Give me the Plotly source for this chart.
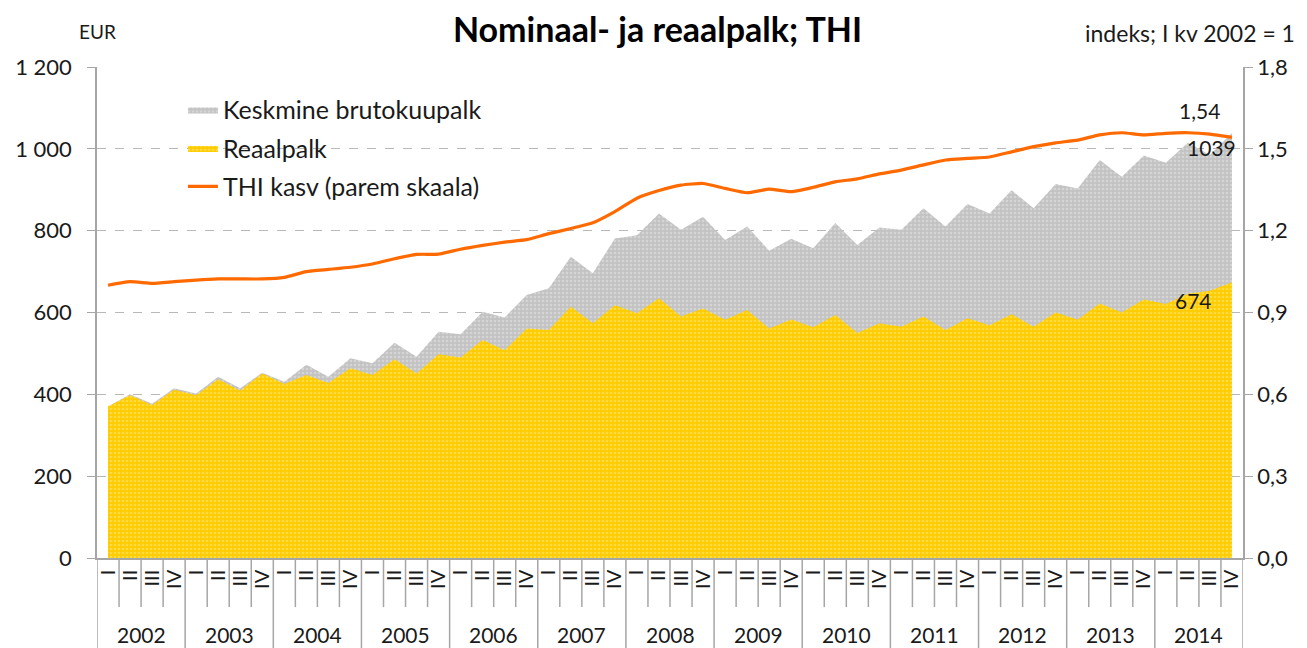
import plotly.graph_objects as go

years = ["2002", "2003", "2004", "2005", "2006", "2007", "2008",
         "2009", "2010", "2011", "2012", "2013", "2014"]
quarters = ["I", "II", "III", "IV"]

nominal = [370, 400, 377, 415, 402, 443, 415, 453, 431, 472, 443, 488,
           476, 526, 492, 553, 547, 602, 588, 643, 659, 736, 696, 781,
           789, 842, 802, 834, 777, 810, 751, 780, 757, 819, 765, 808,
           802, 855, 810, 865, 842, 899, 855, 914, 903, 973, 932, 984,
           966, 1015, 985, 1039]

real = [370, 398, 374, 411, 398, 437, 409, 451, 425, 447, 428, 464,
        447, 486, 451, 498, 490, 533, 508, 561, 557, 614, 574, 618,
        598, 635, 590, 610, 582, 606, 561, 583, 564, 594, 550, 574,
        565, 590, 557, 586, 569, 596, 565, 600, 582, 622, 600, 632,
        621, 646, 653, 674]

thi = [1.000, 1.013, 1.007, 1.013, 1.019, 1.023, 1.023, 1.023, 1.029, 1.050,
       1.058, 1.066, 1.078, 1.097, 1.113, 1.114, 1.132, 1.146, 1.158, 1.167,
       1.189, 1.208, 1.229, 1.270, 1.319, 1.347, 1.367, 1.373, 1.355, 1.339,
       1.352, 1.343, 1.359, 1.379, 1.390, 1.408, 1.422, 1.441, 1.459, 1.465,
       1.470, 1.489, 1.508, 1.522, 1.532, 1.551, 1.559, 1.551, 1.557, 1.559,
       1.554, 1.542]

x_cat = [f"{q} kv {y}" for y in years for q in quarters]
x_quarters = [q for y in years for q in quarters]
n = len(nominal)
last = n - 1
nq = len(quarters)

FONT = "Lato"
TXT = "#1a1a1a"
AX = "#a6a6a6"

fig = go.Figure()
fig.add_trace(go.Scatter(
    x=x_cat, y=nominal, name="Keskmine brutokuupalk", mode="lines",
    line=dict(width=0, color="#c8c8c8"), fill="tozeroy",
    fillcolor="#c6c6c6",
    fillpattern=dict(shape=".", bgcolor="#c2c2c2", fgcolor="#e8e8e8",
                     size=4, solidity=0.35),
    legendgroup="a", hoverinfo="skip"))
fig.add_trace(go.Scatter(
    x=x_cat, y=real, name="Reaalpalk", mode="lines",
    line=dict(width=0, color="#ffcc00"), fill="tozeroy",
    fillcolor="#ffcc00",
    fillpattern=dict(shape=".", bgcolor="#ffcc00", fgcolor="#ffea90",
                     size=4, solidity=0.35),
    legendgroup="b", hoverinfo="skip"))
fig.add_trace(go.Scatter(
    x=x_cat, y=thi, name="THI kasv (parem skaala)", mode="lines",
    line=dict(width=3.2, color="#ff6a00", shape="spline", smoothing=0.5),
    yaxis="y2", legendgroup="c"))

lab_font = dict(size=21, family=FONT, color=TXT)

# category separators below the axis (quarters short, years long)
shapes = []
for b in range(n + 1):
    is_year = (b % nq == 0)
    shapes.append(dict(type="line", xref="x", yref="paper",
                       x0=b - 0.5, x1=b - 0.5, y0=0,
                       y1=-0.2 if is_year else -0.1,
                       line=dict(color=AX, width=1.5)))

annotations = [
    dict(text="EUR", xref="paper", yref="paper", x=-0.0175, y=1.073,
         xanchor="left", yanchor="middle", showarrow=False,
         font=dict(size=19, family=FONT, color=TXT)),
    dict(text="indeks; I kv 2002 = 1", xref="paper", yref="paper",
         x=1.047, y=1.069, xanchor="right", yanchor="middle", showarrow=False,
         font=dict(size=23, family=FONT, color=TXT)),
    dict(text=f"{thi[last]:.2f}".replace(".", ","), xref="x", yref="y2",
         x=last, y=thi[last], xshift=-32, yshift=27, showarrow=False,
         font=lab_font),
    dict(text=str(nominal[last]), xref="x", yref="y",
         x=last, y=nominal[last], xshift=-20, yshift=-15, showarrow=False,
         font=lab_font),
    dict(text=str(real[last]), xref="x", yref="y",
         x=last, y=real[last], xshift=-38, yshift=-18, showarrow=False,
         font=lab_font),
]
for k, yr in enumerate(years):
    annotations.append(dict(text=yr, xref="x", yref="paper",
                            x=k * nq + (nq - 1) / 2, y=-0.155,
                            xanchor="center", yanchor="middle", showarrow=False,
                            font=dict(size=21, family=FONT, color=TXT)))

fig.update_layout(
    width=1299, height=640,
    margin=dict(l=89, r=64, t=59, b=90),
    paper_bgcolor="white", plot_bgcolor="white",
    separators=", ",
    font=dict(family=FONT, size=21, color=TXT),
    showlegend=True,
    legend=dict(x=0.075, y=0.96, xanchor="left", yanchor="top",
                bgcolor="rgba(0,0,0,0)", font=dict(size=25, family=FONT, color=TXT),
                tracegroupgap=3, traceorder="grouped"),
    title=dict(text="<b>Nominaal- ja reaalpalk; THI</b>", x=0.5, xanchor="center",
               y=0.966, yanchor="middle", font=dict(family=FONT, size=34, color="#000")),
    xaxis=dict(type="category", range=[-0.5, n - 0.5],
               tickmode="array", tickvals=x_cat, ticktext=x_quarters,
               showline=True, linecolor=AX, linewidth=1.5, ticks="",
               tickangle=-90, tickfont=dict(size=20, family=FONT, color=TXT),
               ticklabelstandoff=2,
               showgrid=False, zeroline=False, automargin=False),
    yaxis=dict(range=[0, 1200], dtick=200, tickformat=",d",
               showline=True, linecolor=AX, linewidth=1.5,
               ticks="outside", ticklen=8, tickcolor=AX, ticklabelstandoff=11,
               showgrid=True, gridcolor="#b8b8b8", griddash="dash", gridwidth=1,
               zeroline=False, tickfont=dict(size=22, family=FONT, color=TXT),
               automargin=False),
    yaxis2=dict(range=[0, 1.8], dtick=0.3, tickformat=".1f",
                overlaying="y", side="right",
                showline=True, linecolor=AX, linewidth=1.5,
                ticks="outside", ticklen=8, tickcolor=AX, ticklabelstandoff=0,
                showgrid=False, zeroline=False,
                tickfont=dict(size=22, family=FONT, color=TXT), automargin=False),
    shapes=shapes,
    annotations=annotations,
)

fig.write_html("out.html")
